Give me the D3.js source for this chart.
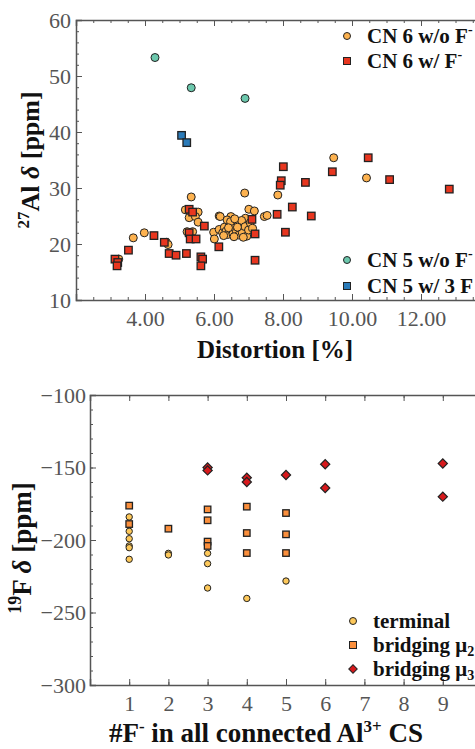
<!doctype html>
<html>
<head>
<meta charset="utf-8">
<title>Al and F shifts</title>
<script src="https://cdnjs.cloudflare.com/ajax/libs/d3/7.8.5/d3.min.js"></script>
<style>
  body { margin: 0; background: #fff; }
  svg { display: block; font-family: "Liberation Serif", "DejaVu Serif", serif; }
  .tick text { fill: #555; font-size: 22px; font-family: "Liberation Serif", serif; }
  .domain, .tick line { stroke: #555; }
  .lab { font-weight: bold; font-size: 27px; fill: #111; }
  .leg { font-weight: bold; font-size: 21px; fill: #111; }
</style>
</head>
<body>
<div id="chart"></div>
<script>
// ---- top panel: 27Al shift vs distortion ----
// CN 6 without F- (distortion %, shift ppm)
const cn6NoF = [
  [3.24,17.3],[3.66,21.1],[3.98,22.0],[4.62,20.3],[4.67,19.9],
  [5.17,26.1],[5.34,28.4],[5.54,25.7],[5.28,24.7],[5.46,24.9],[5.54,23.9],[5.22,22.2],[5.38,22.2],
  [5.99,22.1],[6.01,20.9],[6.15,25.0],[6.18,24.9],[6.49,24.9],[6.64,24.1],[6.83,23.8],[6.91,24.6],
  [6.89,29.1],[7.85,28.75],[7.01,26.2],[7.17,25.9],[7.46,24.9],[7.54,25.1],
  [6.15,22.6],[6.25,22.0],[6.30,23.0],[6.35,22.3],[6.40,21.7],[6.45,23.3],[6.50,22.5],[6.55,21.8],
  [6.55,23.8],[6.60,22.9],[6.65,22.2],[6.70,23.5],[6.72,21.6],[6.75,22.8],[6.80,24.2],[6.82,22.0],
  [6.90,23.1],[6.95,21.4],[7.00,22.5],[7.05,23.8],[6.38,24.3],[6.48,24.0],[6.60,24.5],[6.28,21.5],
  [6.85,21.2],[7.12,22.8],[6.42,22.9],[6.68,23.0],[6.58,21.3],
  [9.47,35.4],[10.42,31.8]
];
// CN 6 with F-
const cn6F = [
  [3.13,17.3],[3.21,16.7],[3.19,16.1],[3.52,18.9],[4.26,21.5],[4.56,20.3],[4.70,18.3],[4.90,18.0],
  [5.20,18.3],[5.28,26.2],[5.38,25.7],[5.72,23.2],[5.28,22.0],[5.31,20.9],[5.48,20.9],
  [5.62,17.7],[5.67,17.3],[5.62,16.1],[6.14,19.5],
  [7.10,24.4],[7.19,21.8],[7.19,17.1],[7.83,25.3],[8.07,22.1],[8.27,26.6],[8.82,25.0],
  [7.95,31.3],[7.92,30.5],[8.01,33.8],[8.65,31.0],[9.43,32.9],[10.47,35.4],[11.09,31.5],[12.82,29.8]
];
// CN 5 without F-
const cn5NoF = [[4.29,53.3],[5.34,47.9],[6.90,46.0]];
// CN 5 with 3 F-
const cn5F3 = [[5.06,39.4],[5.21,38.1]];

const topXTicks = [4, 6, 8, 10, 12];
const topYTicks = [10, 20, 30, 40, 50, 60];

// ---- bottom panel: 19F shift vs number of F- ----
const terminal = [
  [1,-184.1],[1,-194.0],[1,-199.1],[1,-204.1],[1,-205.3],[1,-213.3],
  [2,-209.2],[2,-210.3],
  [3,-209.2],[3,-216.3],[3,-233.1],
  [4,-240.3],[5,-228.3]
];
const bridging2 = [
  [1,-176.3],[1,-189.0],
  [2,-192.2],
  [3,-178.9],[3,-186.4],[3,-201.1],[3,-204.1],
  [4,-177.0],[4,-195.2],[4,-209.0],
  [5,-181.4],[5,-196.1],[5,-209.0]
];
const bridging3 = [
  [3,-150.0],[3,-152.0],[4,-157.0],[4,-160.0],[5,-155.2],
  [6,-147.8],[6,-164.1],[9,-147.2],[9,-170.1]
];
const botXTicks = [1, 2, 3, 4, 5, 6, 7, 8, 9];
const botYTicks = [-300, -250, -200, -150, -100];

const W = 475, H = 749;
const svg = d3.select('#chart').append('svg').attr('width', W).attr('height', H);

// a framed panel with inward ticks on all sides
function panel(x, y, xTicks, xMinor, yTicks, yMinor, xFmt, yFmt, xPad, yPad) {
  const g = svg.append('g');
  const [x0, x1] = x.range(), [y0, y1] = y.range();
  const axes = [
    [d3.axisBottom(x), y0, xTicks, xMinor, xFmt, 'x', xPad],
    [d3.axisTop(x), y1, xTicks, xMinor, null, 'x', 0],
    [d3.axisLeft(y), x0, yTicks, yMinor, yFmt, 'y', yPad],
    [d3.axisRight(y), x1, yTicks, yMinor, null, 'y', 0]
  ];
  axes.forEach(([ax, pos, major, minor, fmt, dir, pad]) => {
    const tr = dir === 'x' ? `translate(0,${pos})` : `translate(${pos},0)`;
    g.append('g').attr('transform', tr)
      .call(ax.tickValues(minor).tickSize(-3).tickFormat(''))
      .call(a => a.select('.domain').remove());
    const m = g.append('g').attr('transform', tr)
      .call(ax.tickValues(major).tickSize(-6).tickPadding(pad).tickFormat(fmt || ''));
    m.select('.domain').attr('stroke-width', 1.5);
  });
  return g;
}

function circles(g, data, x, y, r, fill) {
  g.append('g').selectAll('circle').data(data).join('circle')
    .attr('cx', d => x(d[0])).attr('cy', d => y(d[1])).attr('r', r)
    .attr('fill', fill).attr('stroke', '#222').attr('stroke-width', 1);
}
function squares(g, data, x, y, s, fill) {
  g.append('g').selectAll('rect').data(data).join('rect')
    .attr('x', d => x(d[0]) - s / 2).attr('y', d => y(d[1]) - s / 2)
    .attr('width', s).attr('height', s)
    .attr('fill', fill).attr('stroke', '#222').attr('stroke-width', 1.3);
}
function diamonds(g, data, x, y, s, fill) {
  g.append('g').selectAll('path').data(data).join('path')
    .attr('d', d3.symbol(d3.symbolSquare, s * s))
    .attr('transform', d => `translate(${x(d[0])},${y(d[1])}) rotate(45)`)
    .attr('fill', fill).attr('stroke', '#222').attr('stroke-width', 1.2);
}

// ----- top -----
const x1s = d3.scaleLinear().domain([2, 14]).range([76, 490]);
const y1s = d3.scaleLinear().domain([10, 60]).range([300, 20]);
panel(x1s, y1s, topXTicks, d3.range(2, 14.01, 0.5), topYTicks, d3.range(10, 60.01, 2),
  d => d3.format('.2f')(d), d => d, 10, 5);

const topG = svg.append('g');
circles(topG, cn6NoF, x1s, y1s, 4, '#fdb24f');
squares(topG, cn6F, x1s, y1s, 7.5, '#e8361f');
circles(topG, cn5NoF, x1s, y1s, 4, '#6cc8ad');
squares(topG, cn5F3, x1s, y1s, 7.5, '#2b7bb9');

// legends
function legendRow(g, mx, my, kind, fill, parts) {
  if (kind === 'c') g.append('circle').attr('cx', mx).attr('cy', my).attr('r', 3.5)
    .attr('fill', fill).attr('stroke', '#222');
  if (kind === 's') g.append('rect').attr('x', mx - 3.5).attr('y', my - 3.5).attr('width', 7).attr('height', 7)
    .attr('fill', fill).attr('stroke', '#222');
  if (kind === 'd') g.append('path').attr('d', d3.symbol(d3.symbolSquare, 36))
    .attr('transform', `translate(${mx},${my}) rotate(45)`).attr('fill', fill).attr('stroke', '#222');
  const t = g.append('text').attr('class', 'leg').attr('x', mx + 20).attr('y', my + 7);
  parts.forEach(p => {
    const s = t.append('tspan').text(p.t);
    if (p.sup) s.attr('dy', -9).attr('font-size', 14);
    if (p.sub) s.attr('dy', 4).attr('font-size', 14);
  });
}
legendRow(svg, 347, 36, 'c', '#fdb24f', [{t: 'CN 6 w/o F'}, {t: '-', sup: true}]);
legendRow(svg, 347, 61, 's', '#e8361f', [{t: 'CN 6 w/ F'}, {t: '-', sup: true}]);
legendRow(svg, 347, 260, 'c', '#6cc8ad', [{t: 'CN 5 w/o F'}, {t: '-', sup: true}]);
legendRow(svg, 347, 286, 's', '#2b7bb9', [{t: 'CN 5 w/ 3 F'}]);

// top titles
svg.append('text').attr('class', 'lab').attr('x', 275).attr('y', 358)
  .attr('text-anchor', 'middle').text('Distortion [%]')
  .style('font-size', '25px');
const yl1 = svg.append('text').attr('class', 'lab').style('font-size', '26px')
  .attr('transform', 'translate(39,160) rotate(-90)').attr('text-anchor', 'middle');
yl1.append('tspan').style('font-size', '17px').attr('dy', -10).text('27');
yl1.append('tspan').attr('dy', 10).text('Al ');
yl1.append('tspan').attr('font-style', 'italic').text('δ');
yl1.append('tspan').text(' [ppm]');

// ----- bottom -----
const x2s = d3.scaleLinear().domain([0, 10]).range([90, 482]);
const y2s = d3.scaleLinear().domain([-300, -100]).range([685, 395]);
panel(x2s, y2s, botXTicks, d3.range(0, 10.01, 1), botYTicks, d3.range(-300, -99, 10),
  d => d, d => String(d).replace('-', '−'), 10, 4);

const botG = svg.append('g');
circles(botG, terminal, x2s, y2s, 3.2, '#fdc85a');
squares(botG, bridging2, x2s, y2s, 6.5, '#fb8f3c');
diamonds(botG, bridging3, x2s, y2s, 6.5, '#d7191c');

legendRow(svg, 353, 621, 'c', '#fdc85a', [{t: 'terminal'}]);
legendRow(svg, 353, 645, 's', '#fb8f3c', [{t: 'bridging μ'}, {t: '2', sub: true}]);
legendRow(svg, 353, 669, 'd', '#d7191c', [{t: 'bridging μ'}, {t: '3', sub: true}]);

const xl2 = svg.append('text').attr('class', 'lab').attr('x', 266).attr('y', 742)
  .attr('text-anchor', 'middle');
xl2.append('tspan').text('#F');
xl2.append('tspan').attr('font-size', 17).attr('dy', -10).text('-');
xl2.append('tspan').attr('dy', 10).text(' in all connected Al');
xl2.append('tspan').attr('font-size', 17).attr('dy', -10).text('3+');
xl2.append('tspan').attr('dy', 10).text(' CS');

const yl2 = svg.append('text').attr('class', 'lab')
  .attr('transform', 'translate(31,548) rotate(-90)').attr('text-anchor', 'middle');
yl2.append('tspan').attr('font-size', 18).attr('dy', -10).text('19');
yl2.append('tspan').attr('dy', 10).text('F ');
yl2.append('tspan').attr('font-style', 'italic').text('δ');
yl2.append('tspan').text(' [ppm]');
</script>
</body>
</html>
